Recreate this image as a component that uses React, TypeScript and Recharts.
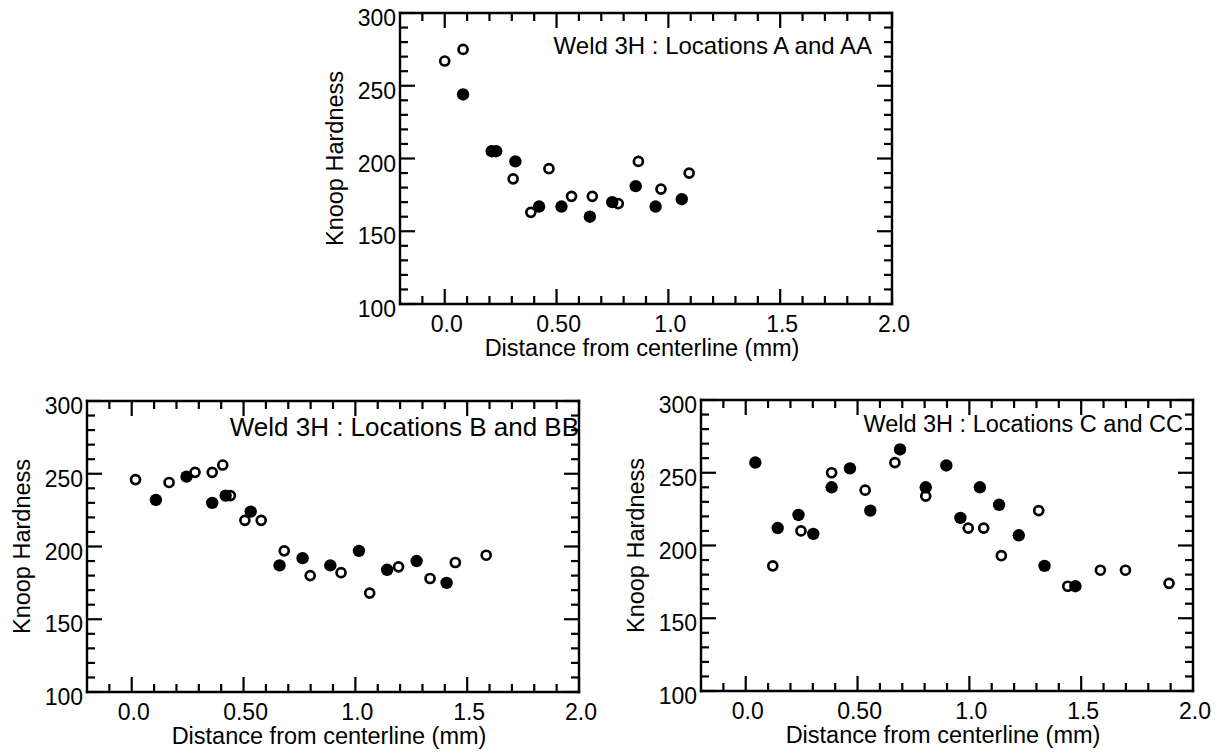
import { ReferenceLine, Scatter, ScatterChart, XAxis, YAxis } from "recharts";

const FONT = '"Liberation Sans", Arial, Helvetica, sans-serif';

// axis ranges and ticks
const X_MIN = -0.2;
const X_MAX = 2;
const Y_MIN = 100;
const Y_MAX = 300;
const X_MAJOR = [0, 0.5, 1, 1.5, 2];
const X_LABELS = ["0.0", "0.50", "1.0", "1.5", "2.0"];
const X_MINOR = [-0.1, 0.1, 0.2, 0.3, 0.4, 0.6, 0.7, 0.8, 0.9, 1.1, 1.2, 1.3, 1.4, 1.6, 1.7, 1.8, 1.9];
const Y_MAJOR = [100, 150, 200, 250, 300];
const Y_MINOR = [110, 120, 130, 140, 160, 170, 180, 190, 210, 220, 230, 240, 260, 270, 280, 290];

const X_TICKS = [...X_MAJOR, ...X_MINOR].sort((a, b) => a - b);
const Y_TICKS = [...Y_MAJOR, ...Y_MINOR].sort((a, b) => a - b);

type Pt = { x: number; y: number };

// Weld 3H, locations A / AA
const A_FILLED: Pt[] = [
  { x: 0.082, y: 244 }, { x: 0.21, y: 205 }, { x: 0.23, y: 205 }, { x: 0.316, y: 198 },
  { x: 0.422, y: 167 }, { x: 0.522, y: 167 }, { x: 0.649, y: 160 }, { x: 0.749, y: 170 },
  { x: 0.854, y: 181 }, { x: 0.943, y: 167 }, { x: 1.06, y: 172 },
];
const A_OPEN: Pt[] = [
  { x: 0.0, y: 267 }, { x: 0.082, y: 275 }, { x: 0.306, y: 186 }, { x: 0.385, y: 163 },
  { x: 0.466, y: 193 }, { x: 0.567, y: 174 }, { x: 0.66, y: 174 }, { x: 0.776, y: 169 },
  { x: 0.866, y: 198 }, { x: 0.967, y: 179 }, { x: 1.093, y: 190 },
];

// locations B / BB
const B_FILLED: Pt[] = [
  { x: 0.108, y: 232 }, { x: 0.245, y: 248 }, { x: 0.36, y: 230 }, { x: 0.42, y: 235 },
  { x: 0.532, y: 224 }, { x: 0.661, y: 187 }, { x: 0.764, y: 192 }, { x: 0.888, y: 187 },
  { x: 1.016, y: 197 }, { x: 1.142, y: 184 }, { x: 1.274, y: 190 }, { x: 1.408, y: 175 },
];
const B_OPEN: Pt[] = [
  { x: 0.017, y: 246 }, { x: 0.167, y: 244 }, { x: 0.283, y: 251 }, { x: 0.36, y: 251 },
  { x: 0.407, y: 256 }, { x: 0.441, y: 235 }, { x: 0.506, y: 218 }, { x: 0.579, y: 218 },
  { x: 0.682, y: 197 }, { x: 0.798, y: 180 }, { x: 0.936, y: 182 }, { x: 1.064, y: 168 },
  { x: 1.193, y: 186 }, { x: 1.334, y: 178 }, { x: 1.447, y: 189 }, { x: 1.585, y: 194 },
];

// locations C / CC
const C_FILLED: Pt[] = [
  { x: 0.043, y: 257 }, { x: 0.143, y: 212 }, { x: 0.236, y: 221 }, { x: 0.302, y: 208 },
  { x: 0.384, y: 240 }, { x: 0.466, y: 253 }, { x: 0.557, y: 224 }, { x: 0.69, y: 266 },
  { x: 0.805, y: 240 }, { x: 0.897, y: 255 }, { x: 0.96, y: 219 }, { x: 1.047, y: 240 },
  { x: 1.133, y: 228 }, { x: 1.221, y: 207 }, { x: 1.336, y: 186 }, { x: 1.474, y: 172 },
];
const C_OPEN: Pt[] = [
  { x: 0.121, y: 186 }, { x: 0.247, y: 210 }, { x: 0.384, y: 250 }, { x: 0.534, y: 238 },
  { x: 0.667, y: 257 }, { x: 0.805, y: 234 }, { x: 0.995, y: 212 }, { x: 1.064, y: 212 },
  { x: 1.143, y: 193 }, { x: 1.31, y: 224 }, { x: 1.44, y: 172 }, { x: 1.586, y: 183 },
  { x: 1.698, y: 183 }, { x: 1.893, y: 174 },
];

// plot box geometry inside each svg
const BOX_W = 492;
const BOX_H = 291;
const PAD_L = 82;
const PAD_T = 14;
const PAD_R = 14;
const PAD_B = 58;
const EXTRA_R = 20;
const BOX_LEFT = PAD_L;
const BOX_RIGHT = PAD_L + BOX_W;
const BOX_TOP = PAD_T;
const BOX_BOTTOM = PAD_T + BOX_H;
const MAJOR_LEN = 15;
const MINOR_LEN = 8;

// tick length in data units (ticks point into the box)
const Y_PER_PX = (Y_MAX - Y_MIN) / BOX_H;
const X_PER_PX = (X_MAX - X_MIN) / BOX_W;
const xTickLen = (v: number) => (X_MAJOR.includes(v) ? MAJOR_LEN : MINOR_LEN) * Y_PER_PX;
const yTickLen = (v: number) => (Y_MAJOR.includes(v) ? MAJOR_LEN : MINOR_LEN) * X_PER_PX;

const filledDot = (p: any) => <circle cx={p.cx} cy={p.cy} r={6.2} fill="#000" />;
const openDot = (p: any) => (
  <circle cx={p.cx} cy={p.cy} r={4.5} fill="#fff" stroke="#000" strokeWidth={2.7} />
);

function BottomLabel(p: any) {
  const i = X_MAJOR.indexOf(p.payload.value);
  if (i < 0) return <g />;
  return (
    <text x={p.payload.coordinate + 2} y={BOX_BOTTOM + 20} textAnchor="middle" dominantBaseline="central" fontSize={23} fontFamily={FONT} fill="#000">
      {X_LABELS[i]}
    </text>
  );
}

function LeftLabel(p: any) {
  if (!Y_MAJOR.includes(p.payload.value)) return <g />;
  return (
    <text x={BOX_LEFT - 4} y={p.payload.coordinate + 5} textAnchor="end" dominantBaseline="central" fontSize={23} fontFamily={FONT} fill="#000">
      {p.payload.value}
    </text>
  );
}

type PanelProps = {
  left: number;
  top: number;
  title: string;
  titleSize: number;
  titleInset: number;
  titleDy: number;
  filled: Pt[];
  open: Pt[];
};

function Panel({ left, top, title, titleSize, titleInset, titleDy, filled, open }: PanelProps) {
  const axisLine = { stroke: "#000", strokeWidth: 2.4, strokeLinecap: "square" as const };
  const tickStyle = { stroke: "#000", strokeWidth: 2.2, ifOverflow: "visible" as const, xAxisId: "b", yAxisId: "l" };
  return (
    <div style={{ position: "absolute", left: left - PAD_L, top: top - PAD_T }}>
      <ScatterChart
        width={PAD_L + BOX_W + PAD_R + EXTRA_R}
        height={PAD_T + BOX_H + PAD_B}
        margin={{ top: 0, right: EXTRA_R, bottom: 0, left: 0 }}
      >
        <XAxis
          xAxisId="b"
          dataKey="x"
          type="number"
          domain={[X_MIN, X_MAX]}
          allowDataOverflow
          ticks={X_TICKS}
          interval={0}
          height={PAD_B}
          tickSize={0}
          tickMargin={0}
          tickLine={false}
          axisLine={axisLine}
          tick={BottomLabel}
          label={() => (
            <text x={BOX_LEFT + BOX_W / 2 - 4} y={BOX_BOTTOM + 44} textAnchor="middle" dominantBaseline="central" fontSize={23.5} fontFamily={FONT} fill="#000">
              Distance from centerline (mm)
            </text>
          )}
        />
        <XAxis
          xAxisId="t"
          orientation="top"
          type="number"
          domain={[X_MIN, X_MAX]}
          allowDataOverflow
          height={PAD_T}
          tick={false}
          tickLine={false}
          axisLine={axisLine}
          label={() => (
            <text x={BOX_RIGHT - titleInset} y={BOX_TOP + titleDy} textAnchor="end" dominantBaseline="central" fontSize={titleSize} fontFamily={FONT} fill="#000">
              {title}
            </text>
          )}
        />
        <YAxis
          yAxisId="l"
          dataKey="y"
          type="number"
          domain={[Y_MIN, Y_MAX]}
          allowDataOverflow
          ticks={Y_TICKS}
          interval={0}
          width={PAD_L}
          tickSize={0}
          tickMargin={0}
          tickLine={false}
          axisLine={axisLine}
          tick={LeftLabel}
          label={() => {
            const cx = BOX_LEFT - 65;
            const cy = BOX_TOP + BOX_H / 2;
            return (
              <text x={cx} y={cy} transform={`rotate(-90 ${cx} ${cy})`} textAnchor="middle" dominantBaseline="central" fontSize={23.5} fontFamily={FONT} fill="#000">
                Knoop Hardness
              </text>
            );
          }}
        />
        <YAxis
          yAxisId="r"
          orientation="right"
          type="number"
          domain={[Y_MIN, Y_MAX]}
          allowDataOverflow
          width={PAD_R}
          tick={false}
          tickLine={false}
          axisLine={axisLine}
        />
        {X_TICKS.map((v) => (
          <ReferenceLine key={`xb${v}`} {...tickStyle} segment={[{ x: v, y: Y_MIN }, { x: v, y: Y_MIN + xTickLen(v) }]} />
        ))}
        {X_TICKS.map((v) => (
          <ReferenceLine key={`xt${v}`} {...tickStyle} segment={[{ x: v, y: Y_MAX }, { x: v, y: Y_MAX - xTickLen(v) }]} />
        ))}
        {Y_TICKS.map((v) => (
          <ReferenceLine key={`yl${v}`} {...tickStyle} segment={[{ x: X_MIN, y: v }, { x: X_MIN + yTickLen(v), y: v }]} />
        ))}
        {Y_TICKS.map((v) => (
          <ReferenceLine key={`yr${v}`} {...tickStyle} segment={[{ x: X_MAX, y: v }, { x: X_MAX - yTickLen(v), y: v }]} />
        ))}
        <Scatter xAxisId="b" yAxisId="l" data={open} shape={openDot} isAnimationActive={false} />
        <Scatter xAxisId="b" yAxisId="l" data={filled} shape={filledDot} isAnimationActive={false} />
      </ScatterChart>
    </div>
  );
}

export default function App() {
  return (
    <div style={{ position: "absolute", left: 0, top: 0, width: 1219, height: 753, background: "#fff", overflow: "hidden" }}>
      <Panel left={400} top={13} title="Weld 3H : Locations A and AA" titleSize={24} titleInset={20} titleDy={32} filled={A_FILLED} open={A_OPEN} />
      <Panel left={87} top={401} title="Weld 3H : Locations B and BB" titleSize={26} titleInset={0} titleDy={26} filled={B_FILLED} open={B_OPEN} />
      <Panel left={701} top={400} title="Weld 3H : Locations C and CC" titleSize={23.5} titleInset={10} titleDy={24} filled={C_FILLED} open={C_OPEN} />
    </div>
  );
}
